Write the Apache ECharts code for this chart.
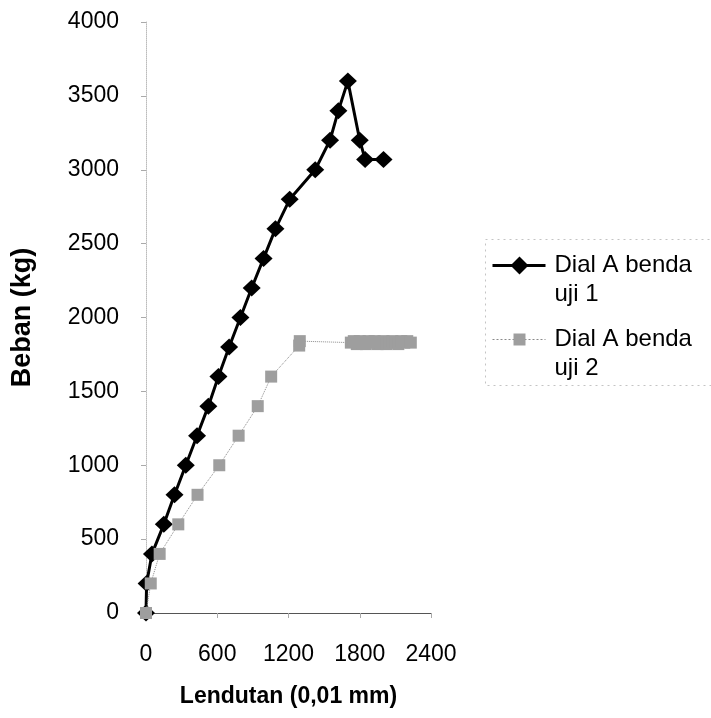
<!DOCTYPE html>
<html>
<head>
<meta charset="utf-8">
<title>Beban - Lendutan</title>
<script src="https://cdn.jsdelivr.net/npm/echarts@6/dist/echarts.min.js"></script>
<style>
  html, body { margin: 0; padding: 0; background: #fff; }
  #chart { width: 711px; height: 718px; }
</style>
</head>
<body>
<div id="chart"></div>
<script>
// Specimen 1 (Dial A benda uji 1): deflection (0,01 mm) and load (kg)
const deflection1 = [0, 5, 50, 150, 240, 335, 430, 525, 610, 700, 795, 890, 990, 1090, 1210, 1425, 1550, 1620, 1700, 1800, 1845, 2000];
const load1       = [0, 200, 400, 600, 800, 1000, 1200, 1400, 1600, 1800, 2000, 2200, 2400, 2600, 2800, 3000, 3200, 3400, 3600, 3200, 3070, 3070];

// Specimen 2 (Dial A benda uji 2)
const deflection2 = [0, 40, 115, 272, 434, 617, 780, 941, 1054, 1290, 1295,
                     1725, 1750, 1775, 1800, 1825, 1850, 1875, 1900, 1925, 1950, 1975, 2000,
                     2025, 2050, 2075, 2100, 2125, 2150, 2175, 2200, 2230];
const load2       = [0, 200, 400, 600, 800, 1000, 1200, 1400, 1600, 1810, 1840,
                     1830, 1840, 1820, 1840, 1830, 1820, 1840, 1830, 1840, 1820, 1830, 1840,
                     1820, 1830, 1840, 1830, 1820, 1840, 1830, 1840, 1830];

const seriesNames = ['Dial A benda uji 1', 'Dial A benda uji 2'];
const legendLines = [['Dial A benda', 'uji 1'], ['Dial A benda', 'uji 2']];

const xTicks = { min: 0, max: 2400, interval: 600 };
const yTicks = { min: 0, max: 4000, interval: 500 };

const pairs = (xs, ys) => xs.map((x, i) => [x, ys[i]]);
const plain = v => String(v);

const FONT = '"Liberation Sans", Arial, sans-serif';
const chart = echarts.init(document.getElementById('chart'), null, { renderer: 'canvas' });

const legendFont = { fontFamily: FONT, fontSize: 24, fill: '#000' };

chart.setOption({
  backgroundColor: '#ffffff',
  animation: false,
  grid: { left: 146, right: 280, top: 22, bottom: 105, containLabel: false },
  xAxis: {
    type: 'value',
    min: xTicks.min, max: xTicks.max, interval: xTicks.interval,
    name: 'Lendutan (0,01 mm)',
    nameLocation: 'middle',
    nameGap: 72,
    nameTextStyle: { fontFamily: FONT, fontSize: 23, fontWeight: 'bold', color: '#000' },
    axisLine: { show: true, onZero: false, lineStyle: { color: '#555', width: 1 } },
    axisTick: { show: true, inside: false, length: 5, lineStyle: { color: '#aaa' } },
    axisLabel: { fontFamily: FONT, fontSize: 23, color: '#000', margin: 30, formatter: plain },
    splitLine: { show: false }
  },
  yAxis: {
    type: 'value',
    min: yTicks.min, max: yTicks.max, interval: yTicks.interval,
    name: 'Beban (kg)',
    nameLocation: 'middle',
    nameGap: 110,
    nameTextStyle: { fontFamily: FONT, fontSize: 27, fontWeight: 'bold', color: '#000' },
    axisLine: { show: true, lineStyle: { color: '#bbb', width: 1, type: 'dotted' } },
    axisTick: { show: true, inside: false, length: 5, lineStyle: { color: '#aaa' } },
    axisLabel: { fontFamily: FONT, fontSize: 23, color: '#000', margin: 27, formatter: plain },
    splitLine: { show: false }
  },
  series: [
    {
      name: seriesNames[0],
      type: 'line',
      data: pairs(deflection1, load1),
      symbol: 'diamond',
      symbolSize: [18, 17],
      showAllSymbol: true,
      lineStyle: { color: '#000', width: 3 },
      itemStyle: { color: '#000' },
      z: 2
    },
    {
      name: seriesNames[1],
      type: 'line',
      data: pairs(deflection2, load2),
      symbol: 'rect',
      symbolSize: 12,
      showAllSymbol: true,
      lineStyle: { color: '#8a8a8a', width: 1, type: 'dotted' },
      itemStyle: { color: '#9e9e9e' },
      z: 3
    }
  ],
  graphic: [
    {
      type: 'group',
      left: 483, top: 237,
      children: [
        { type: 'rect', shape: { x: 0, y: 0, width: 232, height: 146 },
          style: { fill: 'none', stroke: '#c4c4c4', lineWidth: 1, lineDash: [2, 4] } },
        // entry 1
        { type: 'line', shape: { x1: 7, y1: 26, x2: 60, y2: 26 }, style: { stroke: '#000', lineWidth: 3 } },
        { type: 'polygon', shape: { points: [[34, 17], [43, 26], [34, 35], [25, 26]] }, style: { fill: '#000' } },
        { type: 'text', x: 69, y: 26, style: Object.assign({ text: legendLines[0][0], verticalAlign: 'middle' }, legendFont) },
        { type: 'text', x: 69, y: 55, style: Object.assign({ text: legendLines[0][1], verticalAlign: 'middle' }, legendFont) },
        // entry 2
        { type: 'line', shape: { x1: 7, y1: 100, x2: 60, y2: 100 }, style: { stroke: '#8a8a8a', lineWidth: 1, lineDash: [2, 2] } },
        { type: 'rect', shape: { x: 28, y: 94, width: 12, height: 12 }, style: { fill: '#9e9e9e' } },
        { type: 'text', x: 69, y: 100, style: Object.assign({ text: legendLines[1][0], verticalAlign: 'middle' }, legendFont) },
        { type: 'text', x: 69, y: 129, style: Object.assign({ text: legendLines[1][1], verticalAlign: 'middle' }, legendFont) }
      ]
    }
  ]
});
</script>
</body>
</html>
